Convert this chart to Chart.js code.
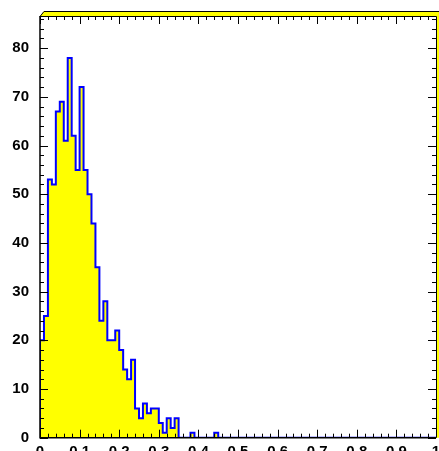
<!DOCTYPE html>
<html>
<head>
<meta charset="utf-8">
<script src="https://cdn.jsdelivr.net/npm/chart.js@4"></script>
<style>
  html, body { margin: 0; padding: 0; background: #ffffff; }
  #wrap { width: 439px; height: 451px; position: relative; }
</style>
</head>
<body>
<div id="wrap"><canvas id="histo"></canvas></div>
<script>
// Histogram: 100 bins between 0 and 1
const xMin = 0;
const xMax = 1;
const binWidth = 0.01;
const counts = [
  8, 20, 25, 53, 52, 67, 69, 61, 78, 62,
  55, 72, 55, 50, 44, 35, 24, 28, 20, 20,
  22, 18, 14, 12, 16, 6, 4, 7, 5, 6,
  6, 3, 1, 4, 2, 4, 0, 0, 0, 1,
  0, 0, 0, 0, 0, 1, 0, 0, 0, 0,
  0, 0, 0, 0, 0, 0, 0, 0, 0, 0,
  0, 0, 0, 0, 0, 0, 0, 0, 0, 0,
  0, 0, 0, 0, 0, 0, 0, 0, 0, 0,
  0, 0, 0, 0, 0, 0, 0, 0, 0, 0,
  0, 0, 0, 0, 0, 0, 0, 0, 0, 0
];
const yMax = 86.6; // about max + sqrt(max), like ROOT does

// Tick labels
const xTickValues = [0, 0.1, 0.2, 0.3, 0.4, 0.5, 0.6, 0.7, 0.8, 0.9, 1];
const xTickLabels = ['0', '0.1', '0.2', '0.3', '0.4', '0.5', '0.6', '0.7', '0.8', '0.9', '1'];
const yTickValues = [0, 10, 20, 30, 40, 50, 60, 70, 80];
const yTickLabels = ['0', '10', '20', '30', '40', '50', '60', '70', '80'];

// step outline points: start at baseline, one point per bin low edge, close at xMax
const points = [{ x: xMin, y: 0 }];
counts.forEach((c, i) => points.push({ x: xMin + i * binWidth, y: c }));
points.push({ x: xMax, y: counts[counts.length - 1] });

// ROOT-like frame: yellow border band top/right and inward ticks on all four sides
const frameAndTicks = {
  id: 'frameAndTicks',
  afterDraw(chart) {
    const { ctx, chartArea: a, scales: { x, y } } = chart;
    ctx.save();

    // ticks
    ctx.strokeStyle = '#000000';
    ctx.lineWidth = 1;
    ctx.beginPath();
    for (let v = 0; v <= yMax; v += 2) {
      const py = Math.round(y.getPixelForValue(v)) + 0.5;
      const len = (Math.round(v) % 10 === 0) ? 8 : 4;
      ctx.moveTo(a.left, py); ctx.lineTo(a.left + len, py);
      ctx.moveTo(a.right, py); ctx.lineTo(a.right - len, py);
    }
    for (let i = 0; i <= 50; i++) {
      const px = Math.round(x.getPixelForValue(i * 0.02)) + 0.5;
      const len = (i % 5 === 0) ? 8 : 4;
      ctx.moveTo(px, a.bottom); ctx.lineTo(px, a.bottom - len);
      ctx.moveTo(px, a.top); ctx.lineTo(px, a.top + len);
    }
    ctx.stroke();

    // axis lines
    ctx.lineWidth = 1.5;
    ctx.beginPath();
    ctx.moveTo(a.left, a.top);
    ctx.lineTo(a.left, a.bottom);
    ctx.lineTo(a.right, a.bottom);
    ctx.stroke();

    // yellow border band
    const W = chart.width;
    const bTop = a.top - 5;
    ctx.fillStyle = '#ffff00';
    ctx.beginPath();
    ctx.moveTo(a.left, a.top);
    ctx.lineTo(a.left + 4, bTop);
    ctx.lineTo(W, bTop);
    ctx.lineTo(W, a.bottom);
    ctx.lineTo(a.right, a.bottom);
    ctx.lineTo(a.right, a.top);
    ctx.closePath();
    ctx.fill();

    ctx.strokeStyle = '#000000';
    ctx.lineWidth = 1;
    ctx.beginPath();
    ctx.moveTo(a.left, a.top + 0.5);
    ctx.lineTo(a.left + 4, bTop + 0.5);
    ctx.lineTo(W, bTop + 0.5);
    ctx.moveTo(a.left, a.top + 0.5);
    ctx.lineTo(a.right + 0.5, a.top + 0.5);
    ctx.lineTo(a.right + 0.5, a.bottom);
    ctx.stroke();

    ctx.restore();
  }
};

// drop the extra room Chart.js keeps for labels overhanging the axis ends
function noLabelPadding(s) {
  s.paddingTop = 0;
  s.paddingBottom = 0;
  s.paddingLeft = 0;
  s.paddingRight = 0;
}

const labelFont = { family: '"Liberation Sans", Arial, sans-serif', size: 15, weight: 'bold' };

new Chart(document.getElementById('histo'), {
  type: 'line',
  data: {
    datasets: [{
      data: points,
      stepped: 'after',
      fill: 'origin',
      backgroundColor: '#ffff00',
      borderColor: '#0000ff',
      borderWidth: 2,
      pointRadius: 0,
      tension: 0
    }]
  },
  options: {
    responsive: true,
    maintainAspectRatio: false,
    animation: false,
    layout: { padding: { left: 0, right: 3, top: 16, bottom: 0 } },
    plugins: {
      legend: { display: false },
      tooltip: { enabled: false }
    },
    scales: {
      x: {
        type: 'linear',
        min: xMin,
        max: xMax,
        afterBuildTicks: (s) => { s.ticks = xTickValues.map(v => ({ value: v })); },
        afterFit: (s) => { s.height = 13.3; noLabelPadding(s); },
        grid: { display: false, drawTicks: false },
        border: { display: false },
        ticks: {
          color: '#000000',
          font: labelFont,
          padding: 5,
          autoSkip: false,
          maxRotation: 0,
          callback: (v, i) => xTickLabels[i]
        }
      },
      y: {
        type: 'linear',
        min: 0,
        max: yMax,
        afterBuildTicks: (s) => { s.ticks = yTickValues.map(v => ({ value: v })); },
        afterFit: (s) => { s.width = 40; noLabelPadding(s); },
        grid: { display: false, drawTicks: false },
        border: { display: false },
        ticks: {
          color: '#000000',
          font: labelFont,
          padding: 11,
          autoSkip: false,
          callback: (v, i) => yTickLabels[i]
        }
      }
    }
  },
  plugins: [frameAndTicks]
});
</script>
</body>
</html>
